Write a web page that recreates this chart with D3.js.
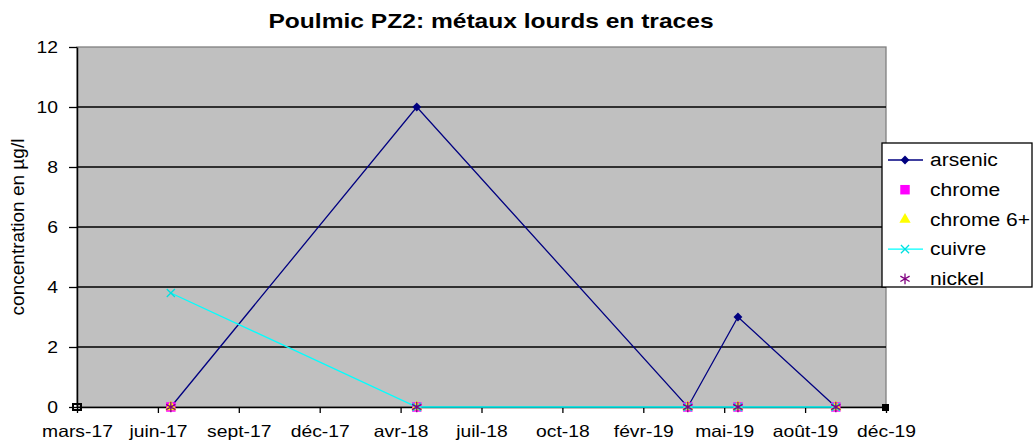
<!DOCTYPE html>
<html>
<meta charset="utf-8">
<head>
	<script src="https://d3js.org/d3.v7.min.js"></script>
	<style>
		body { margin: 0; background: #fff; }
		text { font-family: "Liberation Sans", Arial, sans-serif; fill: #000; }
		.grid line { stroke: #000; stroke-width: 1.3px; }
	</style>
</head>
<body>
<script>
	// sampling dates and measured values (µg/l)
	var dates = ["2017-06-30", "2018-04-30", "2019-03-31", "2019-06-01", "2019-09-30"];
	var arsenic = [0, 10, 0, 3, 0];
	var chrome = [0, 0, 0, 0, 0];
	var chrome6 = [0, 0, 0, 0, 0];
	var cuivre = [3.8, 0, 0, 0, 0];
	var nickel = [0, 0, 0, 0, 0];

	var seriesNames = ["arsenic", "chrome", "chrome 6+", "cuivre", "nickel"];
	var xTickLabels = ["mars-17", "juin-17", "sept-17", "déc-17", "avr-18", "juil-18",
		"oct-18", "févr-19", "mai-19", "août-19", "déc-19"];
	var yTicks = [0, 2, 4, 6, 8, 10, 12];

	var width = 1036, height = 447;
	var margin = {top: 47, right: 150, bottom: 40, left: 77};
	var SX = 1.17; // the picture is a bit wider than the fonts

	var parse = d3.utcParse("%Y-%m-%d");
	var axisStart = parse("2017-03-06");
	var day = 864e5;
	var axisEnd = new Date(+axisStart + 1000 * day);
	var tickDates = xTickLabels.map(function(d, i) { return new Date(+axisStart + i * 100 * day); });

	var x = d3.scaleUtc().domain([axisStart, axisEnd]).range([margin.left, width - margin.right]);
	var y = d3.scaleLinear().domain([0, 12]).range([height - margin.bottom, margin.top]);

	var svg = d3.select("body").append("svg")
		.attr("width", width)
		.attr("height", height);

	function stretch(sel) {
		sel.each(function() {
			var l = this.getComputedTextLength();
			d3.select(this).attr("textLength", l * SX).attr("lengthAdjust", "spacingAndGlyphs");
		});
	}

	// plot area
	svg.append("rect")
		.attr("x", x.range()[0]).attr("y", y(12))
		.attr("width", x.range()[1] - x.range()[0])
		.attr("height", y(0) - y(12))
		.attr("fill", "#c0c0c0")
		.attr("stroke", "#808080")
		.attr("stroke-width", 1.3);

	// gridlines
	svg.append("g").attr("class", "grid")
		.selectAll("line")
		.data(yTicks.filter(function(d) { return d > 0 && d < 12; }))
		.enter().append("line")
		.attr("x1", x.range()[0]).attr("x2", x.range()[1])
		.attr("y1", function(d) { return y(d); })
		.attr("y2", function(d) { return y(d); });

	// y axis
	var yAxis = svg.append("g")
		.attr("transform", "translate(" + x.range()[0] + ",0)")
		.call(d3.axisLeft(y).tickValues(yTicks).tickSize(8).tickPadding(11).tickSizeOuter(0));
	yAxis.select(".domain").attr("stroke", "#000").attr("stroke-width", 1.5);
	yAxis.selectAll(".tick line").attr("stroke", "#000").attr("stroke-width", 1.3);
	yAxis.selectAll("text").style("font-size", "16.5px").attr("dy", "0.36em").call(stretch);

	// x axis
	var xAxis = svg.append("g")
		.attr("transform", "translate(0," + y(0) + ")")
		.call(d3.axisBottom(x).tickValues(tickDates)
			.tickFormat(function(d, i) { return xTickLabels[i]; })
			.tickSize(6).tickPadding(12).tickSizeOuter(0));
	xAxis.select(".domain").attr("stroke", "#000").attr("stroke-width", 1.5);
	xAxis.selectAll(".tick line").attr("stroke", "#000").attr("stroke-width", 1.3);
	xAxis.selectAll("text").style("font-size", "16.5px").call(stretch);

	// small marks at axis ends
	svg.append("path")
		.attr("d", "M" + (x.range()[0] - 4) + "," + (y(0) - 3) + "h8v6h-8z")
		.attr("fill", "none").attr("stroke", "#000").attr("stroke-width", 2);
	svg.append("path")
		.attr("d", "M" + (x.range()[1] - 4) + "," + (y(0) - 3) + "h7v7h-7z")
		.attr("fill", "#000");

	// title
	svg.append("text")
		.attr("x", 491).attr("y", 28)
		.attr("text-anchor", "middle")
		.style("font-size", "21px").style("font-weight", "bold")
		.text("Poulmic PZ2: métaux lourds en traces")
		.call(stretch);

	// y label
	svg.append("text")
		.attr("transform", "translate(24," + ((y(0) + y(12)) / 2) + ") rotate(-90)")
		.attr("text-anchor", "middle")
		.style("font-size", "19px")
		.text("concentration en µg/l");

	var pts = function(vals) {
		return vals.map(function(v, i) { return [x(parse(dates[i])), y(v)]; });
	};

	var symArsenic = d3.symbol().type(d3.symbolDiamond2).size(50);
	var symSquare = d3.symbol().type(d3.symbolSquare).size(90);
	var symTri = d3.symbol().type(d3.symbolTriangle).size(55);
	var symX = d3.symbol().type(d3.symbolX).size(45);
	var symStar = d3.symbol().type(d3.symbolAsterisk).size(80);

	var series = [
		{name: seriesNames[0], values: arsenic, line: "#000080", sym: symArsenic, fill: "#000080", stroke: "none"},
		{name: seriesNames[1], values: chrome, line: null, sym: symSquare, fill: "#ff00ff", stroke: "none"},
		{name: seriesNames[2], values: chrome6, line: null, sym: symTri, fill: "#ffff00", stroke: "none"},
		{name: seriesNames[3], values: cuivre, line: "#00ffff", sym: symX, fill: "none", stroke: "#00e0e0"},
		{name: seriesNames[4], values: nickel, line: null, sym: symStar, fill: "none", stroke: "#800080"}
	];

	var line = d3.line();
	series.forEach(function(s) {
		var p = pts(s.values);
		if (s.line) {
			svg.append("path")
				.attr("d", line(p))
				.attr("fill", "none")
				.attr("stroke", s.line)
				.attr("stroke-width", 1.3);
		}
		svg.append("g").selectAll("path")
			.data(p).enter().append("path")
			.attr("transform", function(d) { return "translate(" + d[0] + "," + d[1] + ")"; })
			.attr("d", s.sym)
			.attr("fill", s.fill)
			.attr("stroke", s.stroke)
			.attr("stroke-width", 1.3);
	});

	// legend
	var lg = svg.append("g").attr("transform", "translate(882,143)");
	lg.append("rect")
		.attr("width", 150).attr("height", 144)
		.attr("fill", "#fff").attr("stroke", "#000").attr("stroke-width", 1.3);
	var items = lg.selectAll(".item")
		.data(series).enter().append("g")
		.attr("transform", function(d, i) { return "translate(0," + (17 + i * 29.7) + ")"; });
	items.filter(function(d) { return d.line; }).append("line")
		.attr("x1", 6).attr("x2", 41)
		.attr("stroke", function(d) { return d.line; })
		.attr("stroke-width", 1.3);
	items.append("path")
		.attr("transform", "translate(23,0)")
		.attr("d", function(d) { return d.sym(); })
		.attr("fill", function(d) { return d.fill; })
		.attr("stroke", function(d) { return d.stroke; })
		.attr("stroke-width", 1.3);
	items.append("text")
		.attr("x", 48).attr("dy", "0.35em")
		.style("font-size", "18px")
		.text(function(d) { return d.name; })
		.call(stretch);
</script>
</body>
</html>
